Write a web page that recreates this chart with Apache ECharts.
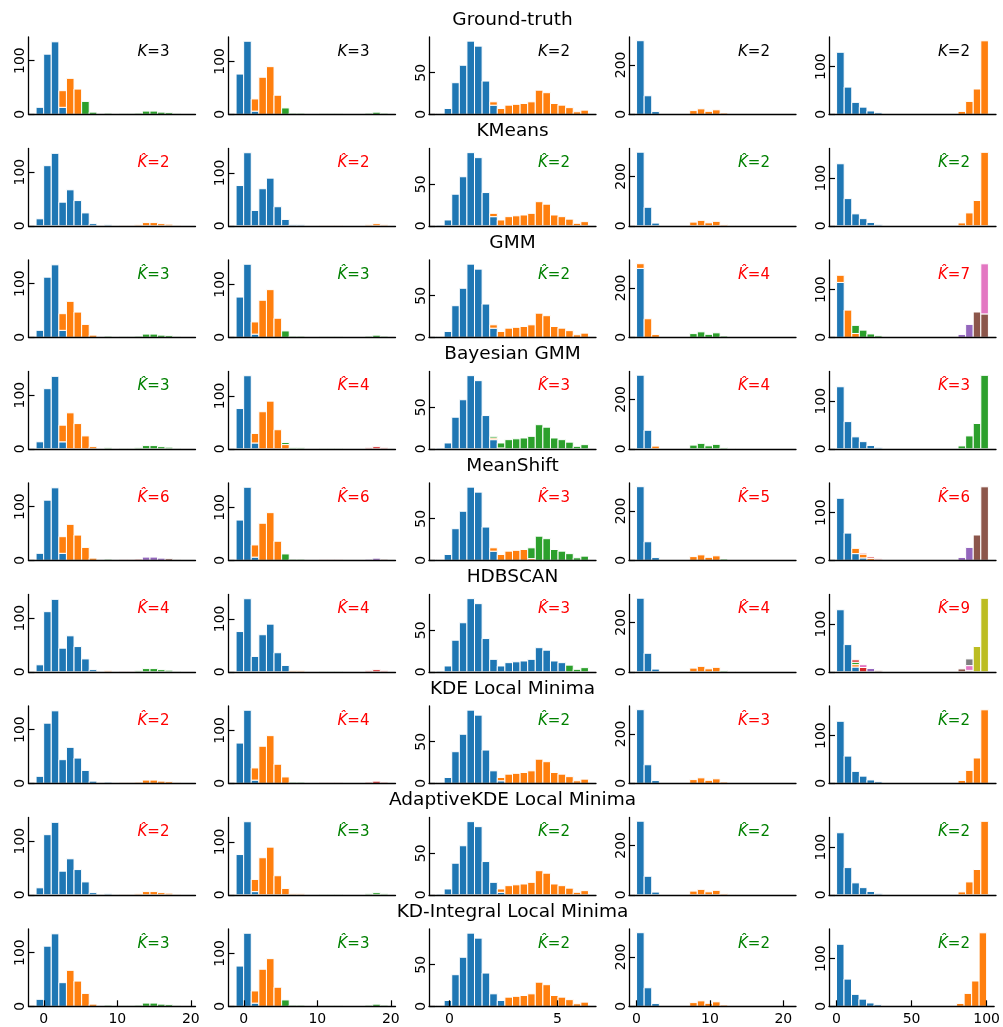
<!DOCTYPE html>
<html><head><meta charset="utf-8">
<script src="https://cdn.jsdelivr.net/npm/echarts@6/dist/echarts.min.js"></script>
<style>html,body{margin:0;padding:0;background:#fff}#c{width:1003px;height:1027px}</style>
</head><body><div id="c"></div>
<script>
// ---------- data ----------
const rowTitles = ['Ground-truth','KMeans','GMM','Bayesian GMM','MeanShift','HDBSCAN','KDE Local Minima','AdaptiveKDE Local Minima','KD-Integral Local Minima'];
const trueK = [3,3,2,2,2];
const estK = [
  [3,3,2,2,2],
  [2,2,2,2,2],
  [3,3,2,4,7],
  [3,4,3,4,3],
  [6,6,3,5,6],
  [4,4,3,4,9],
  [2,4,2,3,2],
  [2,3,2,2,2],
  [3,3,2,2,2]
];
// histogram bins (20 bins per column)
const binStart = [-1.05,-1.05,-0.60,0,0];
const binWidth = [1.033,1.033,0.352,1.035,5];
const xTicks = [[0,10,20],[0,10,20],[0,5],[0,10,20],[0,50,100]];
const yTicks = [[0,100],[0,100],[0,50],[0,200],[0,100]];

// each panel: list of [clusterIndex, firstBin, counts...]
const groundTruth = [
  [[0,0,[13,112,135,13]],[1,3,[31,67,47]],[2,6,[24,4,0,2,0,1,1,2,6,6,4,3,1]]],
  [[0,0,[76,138,6]],[1,2,[23,70,90,36]],[2,6,[12,2,2,0,0,1,1,1,0,0,0,2,4,2]]],
  [[0,0,[1,7,38,59,88,82,40,11]],[1,7,[4,7,11,12,13,15,29,26,13,11,8,3,5]]],
  [[0,0,[298,75,11]],[1,7,[15,22,12,18,5,1,1]]],
  [[0,0,[130,57,25,15,7,3]],[1,16,[6,27,53,154]]]
];
const kmeans = [
  [[0,0,[13,112,135,44,67,47,24,4,0,2]],[1,11,[1,1,2,6,6,4,3,1]]],
  [[0,0,[76,138,29,70,90,36,12,2,2]],[1,11,[1,1,1,0,0,0,2,4,2]]],
  [[0,0,[1,7,38,59,88,82,40,11]],[1,7,[4,7,11,12,13,15,29,26,13,11,8,3,5]]],
  [[0,0,[298,75,11]],[1,7,[15,22,12,18,5,1,1]]],
  [[0,0,[130,57,25,15,7,3]],[1,16,[6,27,53,154]]]
];
const gmm = [
  [[0,0,[13,112,135,13]],[1,3,[31,67,47,24,4]],[2,9,[2,0,1,1,2,6,6,4,3,1]]],
  [[0,0,[76,138,6]],[1,2,[23,70,90,36]],[2,6,[12,2,2,0,0,1,1,1,0,0,0,2,4,2]]],
  [[0,0,[1,7,38,59,88,82,40,11]],[1,7,[4,7,11,12,13,15,29,26,13,11,8,3,5]]],
  [[0,0,[279]],[1,0,[19,75,11]],[2,7,[15,22,12,18,5]],[3,12,[1,1]]],
  [[0,0,[115]],[1,0,[15,57,8]],[2,2,[17,15,7,3]],[4,16,[6,27]],[5,18,[53,49]],[6,19,[105]]]
];
const bayesGmm = [
  [[0,0,[13,112,135,13]],[1,3,[31,67,47,24,4]],[2,9,[2,0,1,1,2,6,6,4,3,1]]],
  [[0,0,[76,138,11]],[1,2,[18,70,90,36,8]],[2,6,[4,2,2,0,0,1,1,1]],[3,17,[2,4,2]]],
  [[0,0,[1,7,38,59,88,82,40,11]],[1,7,[2,1]],[2,7,[2,6,11,12,13,15,29,26,13,11,8,3,5]]],
  [[0,0,[298,75]],[1,2,[11]],[2,7,[15,22,12,18,5,1,1]]],
  [[0,0,[130,57,25,15,7,3]],[2,16,[6,27,53,154]]]
];
const meanShift = [
  [[0,0,[13,112,135,13]],[1,3,[31,67,47,24,4]],[2,9,[2]],[3,11,[1,1,2]],[4,14,[6,6,4]],[5,17,[3,1]]],
  [[0,0,[76,138,6]],[1,2,[23,70,90,36]],[2,6,[12,2,2]],[3,11,[1,1,1]],[4,17,[2,4]],[5,19,[2]]],
  [[0,0,[1,7,38,59,88,82,40,11]],[1,7,[4,7,11,12,13,2]],[2,12,[13,29,26,13,11,8,3,5]]],
  [[0,0,[298,75,11]],[1,7,[15,22,12,18]],[2,11,[5]],[3,12,[1]],[4,13,[1]]],
  [[0,0,[130,57,14,5]],[1,2,[11,8,4,1]],[3,3,[2,3,2]],[4,16,[6,27]],[5,18,[53,154]]]
];
const hdbscan = [
  [[0,0,[13,112,135,44,67,47,24,4]],[1,9,[2]],[3,11,[1,1]],[2,13,[2,6,6,4,3,1]]],
  [[0,0,[76,138,29,70,90,36,12]],[1,7,[2,2]],[2,11,[1,1,1]],[3,17,[2,4,2]]],
  [[0,0,[1,7,38,59,88,82,40,15,7,11,12,13,15,29,26,13,11]],[2,17,[8,3,5]]],
  [[0,0,[298,75,11]],[1,7,[15,22,12,18]],[2,11,[5]],[3,12,[1,1]]],
  [[0,0,[130,57,10]],[1,2,[5]],[2,2,[5]],[3,2,[5,9]],[6,3,[6]],[4,4,[7]],[5,5,[3]],[5,16,[6,3]],[6,17,[10]],[7,17,[14]],[8,18,[53,154]]]
];
const kdeMinima = [
  [[0,0,[13,112,135,44,67,47,24,4,0,2]],[1,11,[1,1,2,6,6,4,3,1]]],
  [[0,0,[76,138,6]],[1,2,[23,70,90,36,12]],[2,7,[2,2]],[3,11,[1,1,1,0,0,0,2,4,2]]],
  [[0,0,[1,7,38,59,88,82,40,15,3]],[1,8,[4,11,12,13,15,29,26,13,11,8,3,5]]],
  [[0,0,[298,75,11]],[1,7,[15,22,12,18,5]],[2,12,[1,1]]],
  [[0,0,[130,57,25,15,7,3]],[1,16,[6,27,53,154]]]
];
const adaptiveKde = [
  [[0,0,[13,112,135,44,67,47,24,4,0,2]],[1,11,[1,1,2,6,6,4,3,1]]],
  [[0,0,[76,138,6]],[1,2,[23,70,90,36,12,2,2]],[2,11,[1,1,1,0,0,0,2,4,2]]],
  [[0,0,[1,7,38,59,88,82,40,15,3]],[1,8,[4,11,12,13,15,29,26,13,11,8,3,5]]],
  [[0,0,[298,75,11]],[1,7,[15,22,12,18,5,1,1]]],
  [[0,0,[130,57,25,15,7,3]],[1,16,[6,27,53,154]]]
];
const kdIntegral = [
  [[0,0,[13,112,135,44]],[1,4,[67,47,24,4]],[2,9,[2,0,1,1,2,6,6,4,3,1]]],
  [[0,0,[76,138,6]],[1,2,[23,70,90,36]],[2,6,[12,2,2,0,0,1,1,1,0,0,0,2,4,2]]],
  [[0,0,[1,7,38,59,88,82,40,15,7]],[1,9,[11,12,13,15,29,26,13,11,8,3,5]]],
  [[0,0,[298,75,11]],[1,7,[15,22,12,18,5,1,1]]],
  [[0,0,[130,57,25,15,7,3]],[1,16,[6,27,53,154]]]
];
const rows = [groundTruth,kmeans,gmm,bayesGmm,meanShift,hdbscan,kdeMinima,adaptiveKde,kdIntegral];

// ---------- layout / style ----------
const COLORS = ['#1f77b4','#ff7f0e','#2ca02c','#d62728','#9467bd','#8c564b','#e377c2','#7f7f7f','#bcbd22','#17becf'];
const FONT = 'DejaVu Sans';
const xRange = [[-2.08,20.64],[-2.08,20.64],[-0.95,6.79],[-1.03,21.73],[-5,105]];
const yMax = [144,146,93,313,162];
const colLeft = [28.5,228.5,429,629,829];
const gridW = 167, gridH = 77.3, rowTop0 = 37, rowPitch = 111.5;

const grids = [], xAxes = [], yAxes = [], series = [], graphics = [];
rows.forEach((row, r) => {
  graphics.push({type:'text', x:512.5, y:20 + rowPitch*r,
    style:{text:rowTitles[r], font:'18.5px "'+FONT+'"', fill:'#000', textAlign:'center', textVerticalAlign:'middle'}});
  row.forEach((panel, c) => {
    const idx = grids.length;
    const top = rowTop0 + rowPitch*r;
    grids.push({left:colLeft[c], top:top, width:gridW, height:gridH});
    const bottom = r === rows.length-1;
    xAxes.push({type:'value', gridIndex:idx, min:xRange[c][0], max:xRange[c][1], z:10,
      axisLine:{show:true, onZero:false, lineStyle:{color:'#000', width:1.3}},
      axisTick:{show:bottom, inside:true, length:6, customValues:xTicks[c], lineStyle:{color:'#000', width:1.2}},
      axisLabel:{show:bottom, customValues:xTicks[c], margin:6, fontFamily:FONT, fontSize:14, color:'#000'},
      splitLine:{show:false}});
    yAxes.push({type:'value', gridIndex:idx, min:0, max:yMax[c], z:10,
      axisLine:{show:true, onZero:false, lineStyle:{color:'#000', width:1.3}},
      axisTick:{show:true, inside:true, length:6, customValues:yTicks[c], lineStyle:{color:'#000', width:1.2}},
      axisLabel:{show:true, rotate:90, customValues:yTicks[c], margin:1, fontFamily:FONT, fontSize:14, color:'#000'},
      splitLine:{show:false}});
    // stack clusters per bin in cluster order
    const base = new Array(20).fill(0);
    const rects = [];
    for (let k = 0; k < 10; k++) {
      panel.filter(s => s[0] === k).forEach(s => {
        s[2].forEach((v, j) => {
          const b = s[1] + j;
          if (v <= 0) return;
          const x0 = binStart[c] + b*binWidth[c];
          rects.push([x0, x0 + binWidth[c], base[b], base[b] + v, k]);
          base[b] += v;
        });
      });
    }
    series.push({type:'custom', xAxisIndex:idx, yAxisIndex:idx, data:rects, silent:true, clip:false,
      encode:{x:[0,1], y:[2,3]},
      renderItem:(params, api) => {
        const p0 = api.coord([api.value(0), api.value(3)]);
        const p1 = api.coord([api.value(1), api.value(2)]);
        return {type:'rect', shape:{x:p0[0], y:p0[1], width:p1[0]-p0[0], height:p1[1]-p0[1]},
          style:{fill:COLORS[api.value(4)], stroke:'#fff', lineWidth:1}};
      }});
    // K annotation
    const k = estK[r][c];
    const isGT = r === 0;
    const col = isGT ? '#000' : (k === trueK[c] ? '#008000' : '#ff0000');
    graphics.push({type:'text', x:colLeft[c] + 125, y:top + 15,
      style:{text:(isGT ? '{i|K}' : '{i|K\u0302}') + '{n|=' + k + '}', textAlign:'center', textVerticalAlign:'middle',
        rich:{i:{fontFamily:FONT, fontSize:15, fontStyle:'italic', fill:col},
              n:{fontFamily:FONT, fontSize:15, fill:col}}}});
  });
});

const chart = echarts.init(document.getElementById('c'), null, {renderer:'canvas'});
chart.setOption({animation:false, backgroundColor:'#fff', grid:grids, xAxis:xAxes, yAxis:yAxes, series:series, graphic:graphics});
</script></body></html>
